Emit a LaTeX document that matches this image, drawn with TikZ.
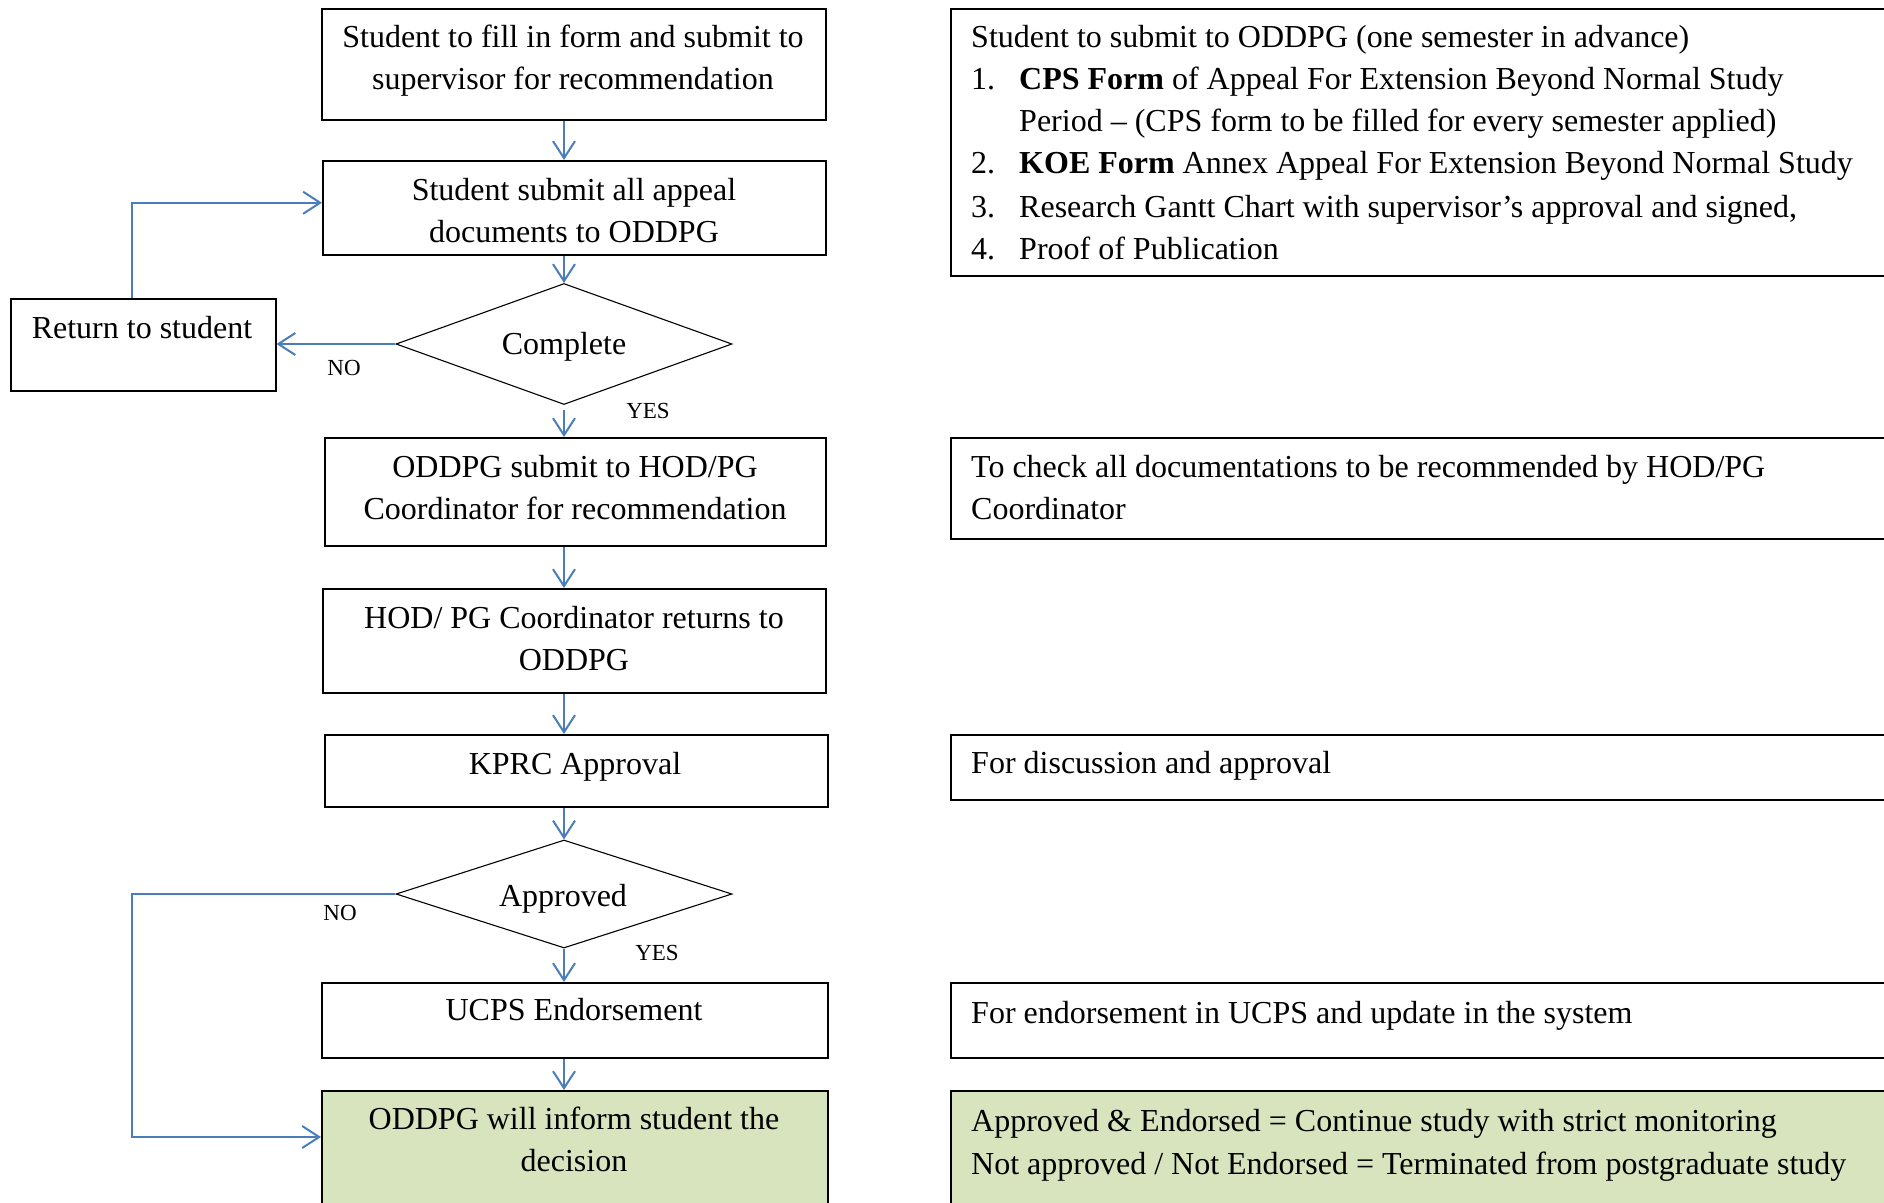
\documentclass[tikz,border=0pt]{standalone}
\usepackage{fontspec}
\setmainfont{Liberation Serif}
\usetikzlibrary{arrows.meta,shapes.geometric}
\definecolor{lnblue}{HTML}{4A7EBB}
\definecolor{pgreen}{HTML}{D7E4BD}
\begin{document}
\begin{tikzpicture}[x=1pt,y=-1pt,
 box/.style={draw=black, line width=1.5pt, inner sep=0pt, anchor=north west},
 dec/.style={draw=black, line width=1.1pt, shape=diamond, inner sep=0pt},
 arr/.style={draw=lnblue, line width=2pt, -{Straight Barb[length=17pt,width=22pt,line width=2pt]}},
 txt/.style={font=\fontsize{32}{42}\selectfont, inner sep=0pt, align=center, anchor=base, yshift=-2.5pt},
 ltxt/.style={font=\fontsize{32}{42}\selectfont, inner sep=0pt, anchor=base west, yshift=-2.5pt},
 lbl/.style={font=\fontsize{23}{27}\selectfont, inner sep=0pt, anchor=center}]
\useasboundingbox (0,0) rectangle (1884,1202);
\clip (0,0) rectangle (1884,1202);
% main column boxes
\node[box, minimum width=504pt, minimum height=111pt] (b1) at (321,8) {};
\node[box, minimum width=503pt, minimum height=94pt] (b2) at (322,160) {};
\node[dec, minimum width=336pt, minimum height=121pt] (d1) at (564,344) {};
\node[box, minimum width=265pt, minimum height=92pt] (rs) at (10,298) {};
\node[box, minimum width=501pt, minimum height=108pt] (b3) at (324,437) {};
\node[box, minimum width=503pt, minimum height=104pt] (b4) at (322,588) {};
\node[box, minimum width=503pt, minimum height=72pt] (b5) at (324,734) {};
\node[dec, minimum width=336pt, minimum height=108pt] (d2) at (564,894) {};
\node[box, minimum width=506pt, minimum height=75pt] (b6) at (321,982) {};
\node[box, fill=pgreen, minimum width=506pt, minimum height=150pt] (b7) at (321,1090) {};
% right column boxes
\node[box, minimum width=960pt, minimum height=267pt] (r1) at (950,8) {};
\node[box, minimum width=960pt, minimum height=101pt] (r2) at (950,437) {};
\node[box, minimum width=960pt, minimum height=65pt] (r3) at (950,734) {};
\node[box, minimum width=960pt, minimum height=75pt] (r4) at (950,982) {};
\node[box, fill=pgreen, minimum width=960pt, minimum height=150pt] (r5) at (950,1090) {};
% texts main column
\node[txt] (t1a) at (573,45) {Student to fill in form and submit to};
\node[txt] (t1b) at (573,87) {supervisor for recommendation};
\node[txt] (t2a) at (574,198) {Student submit all appeal};
\node[txt] (t2b) at (574,240) {documents to ODDPG};
\node[txt] (td1) at (564,352) {Complete};
\node[txt] (trs) at (142,336) {Return to student};
\node[txt] (t3a) at (575,475) {ODDPG submit to HOD/PG};
\node[txt] (t3b) at (575,517) {Coordinator for recommendation};
\node[txt] (t4a) at (574,626) {HOD/ PG Coordinator returns to};
\node[txt] (t4b) at (574,668) {ODDPG};
\node[txt] (t5) at (575,772) {KPRC Approval};
\node[txt] (td2) at (563,904) {Approved};
\node[txt] (t6) at (574,1018) {UCPS Endorsement};
\node[txt] (t7a) at (574,1127) {ODDPG will inform student the};
\node[txt] (t7b) at (574,1169) {decision};
% texts right column
\node[ltxt] (r1a) at (971,45) {Student to submit to ODDPG (one semester in advance)};
\node[ltxt] (r1n1) at (971,87) {1.};
\node[ltxt] (r1b) at (1019,87) {\textbf{CPS Form} of Appeal For Extension Beyond Normal Study};
\node[ltxt] (r1c) at (1019,129) {Period -- (CPS form to be filled for every semester applied)};
\node[ltxt] (r1n2) at (971,171) {2.};
\node[ltxt] (r1d) at (1019,171) {\textbf{KOE Form} Annex Appeal For Extension Beyond Normal Study};
\node[ltxt] (r1n3) at (971,215) {3.};
\node[ltxt] (r1e) at (1019,215) {Research Gantt Chart with supervisor’s approval and signed,};
\node[ltxt] (r1n4) at (971,257) {4.};
\node[ltxt] (r1f) at (1019,257) {Proof of Publication};
\node[ltxt] (r2a) at (971,475) {To check all documentations to be recommended by HOD/PG};
\node[ltxt] (r2b) at (971,517) {Coordinator};
\node[ltxt] (r3a) at (971,771) {For discussion and approval};
\node[ltxt] (r4a) at (971,1021) {For endorsement in UCPS and update in the system};
\node[ltxt] (r5a) at (971,1129) {Approved \& Endorsed = Continue study with strict monitoring};
\node[ltxt] (r5b) at (971,1172) {Not approved / Not Endorsed = Terminated from postgraduate study};
% labels
\node[lbl] (no1) at (344,368) {NO};
\node[lbl] (yes1) at (648,411) {YES};
\node[lbl] (no2) at (340,913) {NO};
\node[lbl] (yes2) at (657,953) {YES};
% helper coordinates
\coordinate (lx) at (132,0);
\coordinate (b7in) at ([yshift=-47pt]b7.north west);
% connectors
\draw[arr] (b1.south -| d1.north) -- (b2.north -| d1.north);
\draw[arr] (b2.south -| d1.north) -- (d1.north);
\draw[arr] ([yshift=-5pt]d1.south) -- (b3.north -| d1.south);
\draw[arr] (b3.south -| d1.north) -- (b4.north -| d1.north);
\draw[arr] (b4.south -| d1.north) -- (b5.north -| d1.north);
\draw[arr] (b5.south -| d2.north) -- (d2.north);
\draw[arr] (d2.south) -- (b6.north -| d2.south);
\draw[arr] (b6.south -| d2.north) -- (b7.north -| d2.north);
\draw[arr] (d1.west) -- (rs.east |- d1.west);
\draw[arr] (rs.north -| lx) |- ([yshift=5pt]b2.west);
\draw[arr] (d2.west) -- (lx |- d2.west) -- (lx |- b7in) -- (b7in);
\end{tikzpicture}
\end{document}
